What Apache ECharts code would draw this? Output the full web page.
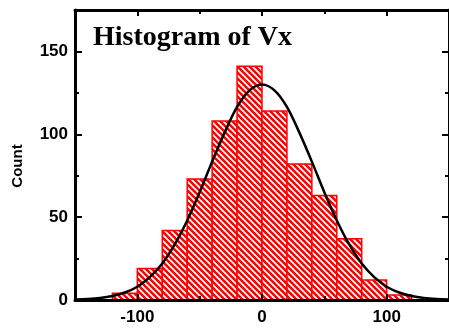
<!DOCTYPE html>
<html>
<head>
<meta charset="utf-8">
<script src="https://cdn.jsdelivr.net/npm/echarts@6/dist/echarts.min.js"></script>
<style>
  html, body { margin: 0; padding: 0; background: #fff; }
  #chart { width: 449px; height: 329px; }
</style>
</head>
<body>
<div id="chart"></div>
<script>
// Histogram bins of Vx (bin edges, width 20) and their counts
const binStarts = [-120, -100, -80, -60, -40, -20, 0, 20, 40, 60, 80, 100];
const binWidth = 20;
const counts = [4, 19, 42, 73, 108, 141, 114, 82, 63, 37, 12, 3];

// Fitted normal curve, sampled every 10 units
const curveX = [-150, -140, -130, -120, -110, -100, -90, -80, -70, -60, -50, -40, -30, -20, -10,
                0, 10, 20, 30, 40, 50, 60, 70, 80, 90, 100, 110, 120, 130, 140, 150];
const curveY = [0.3, 0.6, 1.2, 2.4, 4.5, 8, 13.8, 22, 33.5, 48, 65, 83.5, 101, 116.5, 126.5,
                130, 126.5, 116.5, 101, 83.5, 65, 48, 33.5, 22, 13.8, 8, 4.5, 2.4, 1.2, 0.6, 0.3];

// Axis tick positions
const xMajorTicks = [-100, 0, 100];
const xMinorTicks = [-50, 50];
const yTicks = [0, 50, 100, 150];

const titleText = 'Histogram of Vx';
const yName = 'Count';

// Red fill with white diagonal hatching
function hatchPattern() {
  const s = 6;
  const c = document.createElement('canvas');
  c.width = s; c.height = s;
  const g = c.getContext('2d');
  g.fillStyle = '#ff0000';
  g.fillRect(0, 0, s, s);
  g.strokeStyle = '#ffffff';
  g.lineWidth = 1.7;
  for (let k = -1; k <= 1; k++) {
    g.beginPath();
    g.moveTo(k * s - 1, -1);
    g.lineTo(k * s + s + 1, s + 1);
    g.stroke();
  }
  return { image: c, repeat: 'repeat' };
}
const hatch = hatchPattern();

const binData = binStarts.map((b, i) => [b, b + binWidth, counts[i]]);
const curveData = curveX.map((x, i) => [x, curveY[i]]);

const axisFont = { fontFamily: 'Liberation Sans', fontWeight: 'bold', fontSize: 17, color: '#000' };
const lineStyle = { color: '#000', width: 3 };
const tickStyle = { width: 2, color: '#000' };

function xAxisDef(pos, ticks, len, withLine, withLabels) {
  return {
    type: 'value', position: pos, min: -150, max: 150, z: 10,
    axisLine: { show: withLine, onZero: false, lineStyle },
    splitLine: { show: false },
    axisTick: { show: true, inside: true, length: len, lineStyle: tickStyle, customValues: ticks },
    axisLabel: withLabels ? { ...axisFont, margin: 9, customValues: ticks } : { show: false }
  };
}

function yAxisDef(pos, withLabels) {
  return {
    type: 'value', position: pos, min: 0, max: 175, interval: 50, z: 10,
    axisLine: { show: true, onZero: false, lineStyle },
    splitLine: { show: false },
    axisTick: { show: true, inside: true, length: 7, lineStyle: tickStyle },
    minorTick: { show: true, splitNumber: 2, length: 4, lineStyle: tickStyle },
    axisLabel: withLabels ? { ...axisFont, margin: 7, customValues: yTicks } : { show: false }
  };
}

const chart = echarts.init(document.getElementById('chart'));
chart.setOption({
  animation: false,
  backgroundColor: '#fff',
  title: {
    text: titleText,
    left: 93, top: 24, padding: 0,
    textStyle: { fontFamily: 'Liberation Serif', fontWeight: 'bold', fontSize: 28, color: '#000' }
  },
  graphic: [{
    type: 'text',
    x: 18, y: 166,
    rotation: Math.PI / 2,
    style: {
      text: yName, align: 'center', verticalAlign: 'middle',
      font: 'bold 15px "Liberation Sans"', fill: '#000'
    }
  }],
  grid: { left: 75, right: -3, top: 10, bottom: 29, containLabel: false },
  xAxis: [
    xAxisDef('bottom', xMajorTicks, 6, true, true),
    xAxisDef('bottom', xMinorTicks, 4, false, false),
    xAxisDef('top', xMajorTicks, 6, true, false),
    xAxisDef('top', xMinorTicks, 4, false, false)
  ],
  yAxis: [
    yAxisDef('left', true),
    yAxisDef('right', false)
  ],
  series: [
    {
      type: 'custom',
      xAxisIndex: 0, yAxisIndex: 0,
      data: binData,
      encode: { x: [0, 1], y: 2 },
      renderItem: function (params, api) {
        const p0 = api.coord([api.value(0), api.value(2)]);
        const p1 = api.coord([api.value(1), 0]);
        return {
          type: 'rect',
          shape: { x: p0[0], y: p0[1], width: p1[0] - p0[0], height: p1[1] - p0[1] },
          style: { fill: hatch, stroke: '#ff0000', lineWidth: 1.5 }
        };
      },
      z: 2
    },
    {
      type: 'line',
      xAxisIndex: 0, yAxisIndex: 0,
      data: curveData,
      smooth: 0.3,
      showSymbol: false,
      lineStyle: { color: '#000', width: 2.5 },
      z: 3
    }
  ]
});
</script>
</body>
</html>
